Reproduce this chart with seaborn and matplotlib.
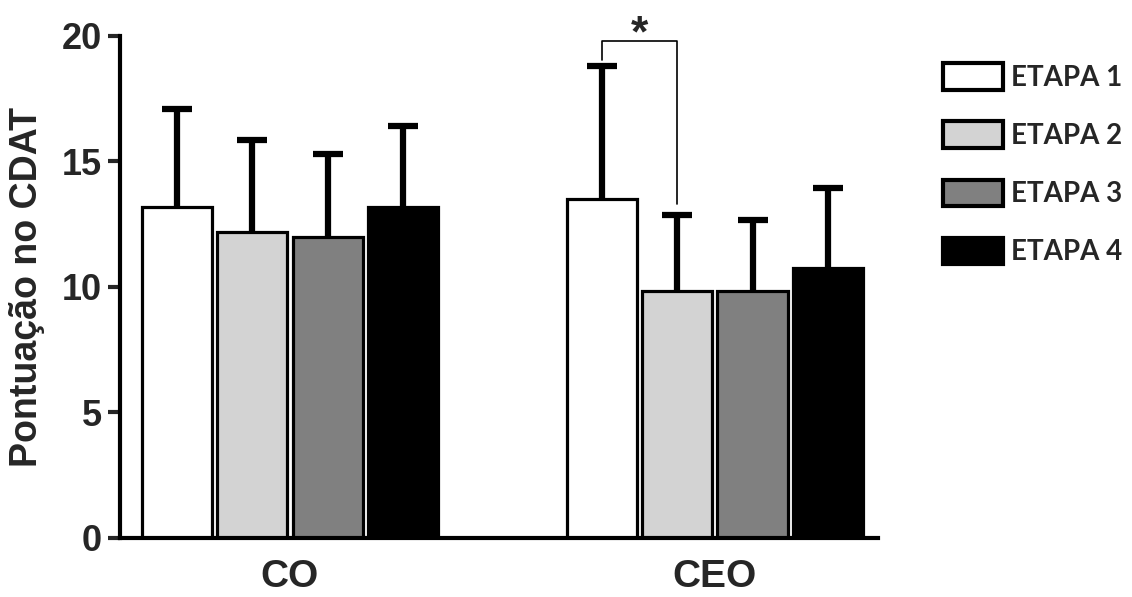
import numpy as np
import pandas as pd
import matplotlib
matplotlib.use("Agg")
import matplotlib.pyplot as plt
import matplotlib.patches as mpatches
import seaborn as sns

groups = ["CO", "CEO"]
etapas = ["ETAPA 1", "ETAPA 2", "ETAPA 3", "ETAPA 4"]
co_mean = [13.2, 12.2, 12.0, 13.2]
co_sd = [3.9, 3.65, 3.3, 3.2]
ceo_mean = [13.5, 9.85, 9.85, 10.75]
ceo_sd = [5.3, 3.0, 2.8, 3.2]
colors = ["#ffffff", "#d3d3d3", "#808080", "#000000"]

df = pd.DataFrame({
    "grupo": ["CO"] * 4 + ["CEO"] * 4,
    "etapa": etapas * 2,
    "media": co_mean + ceo_mean,
    "dp": co_sd + ceo_sd,
})

sns.set_style("white")
plt.rcParams["font.family"] = ["Liberation Sans", "DejaVu Sans"]

fig = plt.figure(figsize=(11.32, 5.97), dpi=100)
ax = fig.add_axes([0.106, 0.099, 0.67, 0.841])

sns.barplot(data=df, x="grupo", y="media", hue="etapa", order=groups,
            hue_order=etapas, palette=colors, errorbar=None, width=0.71,
            gap=0.07, edgecolor="black", linewidth=2.3, legend=False, ax=ax)

# upper-only error bars, patches come hue-major
bars = ax.patches[:8]
for k, p in enumerate(bars):
    e = k // 2
    g = k % 2
    sub = df[(df.grupo == groups[g]) & (df.etapa == etapas[e])].iloc[0]
    xc = p.get_x() + p.get_width() / 2
    eb = ax.errorbar(xc, sub.media, yerr=[[0], [sub.dp]], fmt="none", ecolor="black",
                     elinewidth=4.5, capsize=11, capthick=4.5, zorder=1)
    eb[1][0].set_visible(False)  # no cap at bar top
    p.set_zorder(2)

# significance bracket CEO etapa1 vs etapa2
def center(e, g):
    p = bars[e * 2 + g]
    return p.get_x() + p.get_width() / 2

x1, x2 = center(0, 1), center(1, 1)
ax.plot([x1, x1, x2, x2], [19.05, 19.8, 19.8, 13.3], color="black", lw=1.2,
        clip_on=False, zorder=3)
ax.text((x1 + x2) / 2, 20.05, "*", ha="center", va="center", fontsize=32,
        fontweight="bold", clip_on=False)

ax.set_ylim(0, 20)
ax.set_xlim(-0.40, 1.385)
ax.set_yticks([0, 5, 10, 15, 20])
sns.despine(ax=ax)
for s in ["left", "bottom"]:
    ax.spines[s].set_linewidth(3)
    ax.spines[s].set_color("black")
ax.tick_params(axis="y", length=9, width=3, labelsize=26, pad=4, left=True)
ax.tick_params(axis="x", length=0, labelsize=28, pad=15)
for t in ax.get_xticklabels() + ax.get_yticklabels():
    t.set_fontweight("bold")
ax.set_xlabel("")
ax.set_ylabel("Pontuação no CDAT", fontsize=27, fontweight="bold", labelpad=12)

handles = [mpatches.Patch(facecolor=c, edgecolor="black", linewidth=3, label=l)
           for c, l in zip(colors, etapas)]
leg = fig.legend(handles=handles, loc="upper left", bbox_to_anchor=(0.811, 0.936),
                 frameon=False, handlelength=2.16, handleheight=1.08,
                 labelspacing=1.1, handletextpad=0.3,
                 prop={"family": ["Lato", "DejaVu Sans"], "weight": "bold", "size": 20})

fig.savefig("out.png", dpi=100)
